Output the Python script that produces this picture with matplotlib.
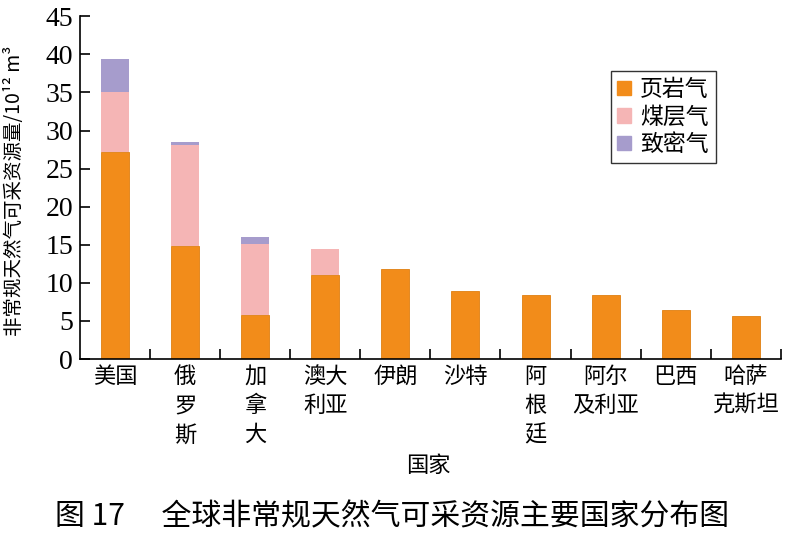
import numpy as np
import matplotlib.pyplot as plt
from matplotlib.patches import Patch

plt.rcParams['font.family'] = ['Noto Sans CJK SC', 'DejaVu Sans']

# 数据 (10^12 m^3)
countries = ['美国', '俄\n罗\n斯', '加\n拿\n大', '澳大\n利亚', '伊朗', '沙特',
             '阿\n根\n廷', '阿尔\n及利亚', '巴西', '哈萨\n克斯坦']
shale = [27.2, 14.9, 5.8, 11.0, 11.8, 8.9, 8.45, 8.45, 6.4, 5.7]
cbm = [7.8, 13.2, 9.3, 3.5, 0, 0, 0, 0, 0, 0]
tight = [4.4, 0.4, 0.9, 0, 0, 0, 0, 0, 0, 0]

c_shale = '#F28C1A'
c_cbm = '#F5B5B5'
c_tight = '#A69CCC'

fig = plt.figure(figsize=(8, 5.4), dpi=100)
ax = fig.add_axes([0.1, 0.335, 0.876, 0.635])

x = np.arange(len(countries))
w = 0.4
shale = np.array(shale)
cbm = np.array(cbm)
tight = np.array(tight)
ax.bar(x, shale, w, color=c_shale, edgecolor='#E07F10', linewidth=0.6)
ax.bar(x, cbm, w, bottom=shale, color=c_cbm, linewidth=0)
ax.bar(x, tight, w, bottom=shale + cbm, color=c_tight, linewidth=0)

ax.set_xlim(-0.5, 9.5)
ax.set_ylim(0, 45)
ax.set_yticks(range(0, 46, 5))
ax.set_yticklabels([str(v) for v in range(0, 46, 5)],
                   family='Liberation Serif', fontsize=20)
ax.set_xticks(x)
ax.set_xticklabels(countries, fontsize=16, linespacing=1.35, va='top')
ax.set_xticks(np.arange(0.5, 10, 1), minor=True)
ax.tick_params(axis='x', which='major', length=0, pad=4)
ax.tick_params(axis='x', which='minor', direction='in', length=7, width=1.2)
ax.tick_params(axis='y', direction='in', length=7, width=1.2, pad=5)
for s in ['top', 'right']:
    ax.spines[s].set_visible(False)
for s in ['left', 'bottom']:
    ax.spines[s].set_linewidth(1.2)

ax.set_ylabel('非常规天然气可采资源量/10¹² m³', fontsize=14,
              family=['Noto Sans CJK SC', 'DejaVu Sans'])
ax.yaxis.set_label_coords(-0.078, 0.49)
fig.text(0.535, 0.138, '国家', fontsize=16, ha='center', va='center')

handles = [Patch(color=c_shale, label='页岩气'),
           Patch(color=c_cbm, label='煤层气'),
           Patch(color=c_tight, label='致密气')]
leg = ax.legend(handles=handles, loc='upper left', bbox_to_anchor=(0.757, 0.84),
                fontsize=16.5, frameon=True, fancybox=False, handlelength=0.6,
                handleheight=0.6, handletextpad=0.4, borderpad=0.3,
                labelspacing=0.2, borderaxespad=0, edgecolor='black')
leg.get_frame().set_linewidth(1.0)

fig.text(0.49, 0.043, '图 17\u3000 全球非常规天然气可采资源主要国家分布图',
         fontsize=21.5, ha='center', va='center')

fig.savefig('out.png', dpi=100)
